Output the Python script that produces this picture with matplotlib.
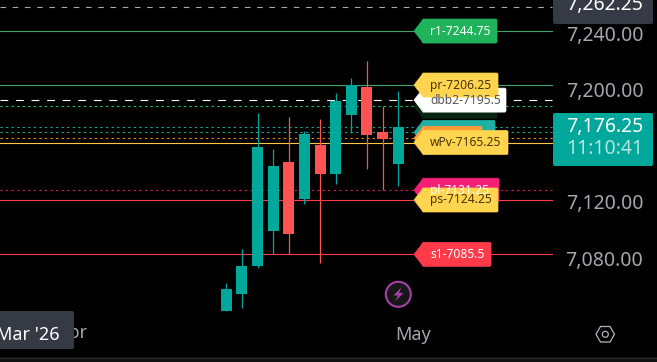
import matplotlib
matplotlib.use("Agg")
import matplotlib.pyplot as plt
from matplotlib.patches import Circle, Polygon, Rectangle, FancyBboxPatch

plt.rcParams['font.family'] = ['Noto Sans', 'DejaVu Sans']

# candles
opens = [7045, 7057.25, 7077.25, 7102, 7151.25, 7125, 7163.5, 7142.75, 7185, 7204.75, 7172.75, 7150]
closes = [7060.75, 7077.25, 7162, 7148.5, 7100, 7171.25, 7142.75, 7194.75, 7206, 7170.5, 7167.75, 7176.25]
highs = [7065, 7089.25, 7186.25, 7160.5, 7183.5, 7173.5, 7182, 7200.5, 7211.25, 7223.5, 7191.25, 7202]
lows = [7045, 7047.25, 7075.75, 7085.5, 7085.75, 7121.5, 7079.25, 7135.5, 7172.25, 7146.25, 7131.5, 7134.25]

# level lines
level_prices = [7262.25, 7244.75, 7206.25, 7195.5, 7191, 7176.25, 7172.5, 7168.25, 7165.25, 7131.25, 7124.25, 7085.5]
level_colors = ['#a9a9b2', '#3fa56b', '#3fa56b', '#ffffff', '#10d060', '#17a89c', '#17a89c', '#f08a24', '#ffc83d', '#d81b60', '#ff3b4a', '#ff3b4a']
level_styles = [(0, (5, 6)), '-', '-', (0, (7, 7)), (0, (2, 3)), (0, (2, 3)), (0, (2, 3)), (0, (2, 3)), '-', (0, (2, 3)), '-', '-']

# tags, back to front
tag_prices = [7244.75, 7191, 7172.5, 7168.25, 7195.5, 7206.25, 7165.25, 7131.25, 7124.25, 7085.5]
tag_texts = ['r1-7244.75', '', '', '', 'dbb2-7195.5', 'pr-7206.25', 'wPv-7165.25', 'pl-7131.25', 'ps-7124.25', 's1-7085.5']
tag_rights = [497, 497, 495, 482, 506, 498, 508, 499, 498, 491]
tag_fills = ['#1fb45c', '#0a2412', '#1fb0a4', '#ff9a36', '#ffffff', '#ffd54f', '#ffd54f', '#f51f78', '#ffd54f', '#ff3b4a']
tag_inks = ['#ffffff', '#ffffff', '#ffffff', '#ffffff', '#555555', '#4a3208', '#4a3208', '#ffffff', '#4a3208', '#ffffff']

y_ticks = [7240, 7200, 7120, 7080]

fig = plt.figure(figsize=(6.57, 3.62), dpi=100, facecolor='black')
ax = fig.add_axes([0, 0, 1, 1], facecolor='black')
ax.set_xlim(-14.47, 27.55)
ax.set_ylim(7008.7, 7266.9)
ax.axis('off')

# pixel overlay for the tags and the widgets
ui = fig.add_axes([0, 0, 1, 1], facecolor='none')
ui.set_xlim(0, 657)
ui.set_ylim(362, 0)
ui.axis('off')


def price_y(price):
    # price to overlay pixel row
    disp = ax.transData.transform((0, price))
    return ui.transData.inverted().transform(disp)[1]


x_end = (552 - 226.3) / 15.636
for p, c, s in zip(level_prices, level_colors, level_styles):
    ax.plot([-14.47, x_end], [p, p], color=c, lw=0.8, ls=s, zorder=1)

for i in range(len(opens)):
    col = '#00a79b' if closes[i] >= opens[i] else '#ff5252'
    ax.plot([i, i], [lows[i], highs[i]], color=col, lw=0.9, zorder=2, solid_capstyle='butt')
    ax.bar(i, abs(closes[i] - opens[i]), bottom=min(opens[i], closes[i]), width=0.7, color=col, zorder=3)

for p, t, r, f, k in zip(tag_prices, tag_texts, tag_rights, tag_fills, tag_inks):
    y = price_y(p)
    ui.add_patch(Polygon([(414, y), (421, y - 9), (423, y - 12), (r - 1, y - 12), (r, y - 11),
                          (r, y + 11), (r - 1, y + 12), (423, y + 12), (421, y + 9)],
                         closed=True, fc=f, ec=f, lw=0.5, joinstyle='round'))
    if t:
        ui.text(430, y, t, color=k, fontsize=8.7, va='center', ha='left')

# price scale
for t in y_ticks:
    ui.text(604.5, price_y(t) - 1.5, f'{t:,.2f}', color='#a4a7ae', fontsize=14, ha='center', va='center')

ui.add_patch(FancyBboxPatch((553, -5), 100, 29, boxstyle='round,pad=0,rounding_size=2', fc='#363a45', ec='none'))
ui.text(604.5, 5, '7,262.25', color='white', fontsize=14, ha='center', va='center')
ui.add_patch(FancyBboxPatch((553, 113), 100, 53, boxstyle='round,pad=0,rounding_size=2', fc='#00a79b', ec='none'))
ui.text(604.5, 127, '7,176.25', color='white', fontsize=14, ha='center', va='center')
ui.text(604.5, 149.5, '11:10:41', color='#b5e4e0', fontsize=14, ha='center', va='center')

# time scale
ui.text(413, 335, 'May', color='#a4a7ae', fontsize=13, ha='center', va='center')
ui.text(72, 333, 'Apr', color='#a4a7ae', fontsize=13, ha='center', va='center')
ui.add_patch(FancyBboxPatch((-5, 311), 79, 38, boxstyle='round,pad=0,rounding_size=2', fc='#363a45', ec='none', zorder=5))
ui.text(28, 335, "Mar '26", color='white', fontsize=13, ha='center', va='center', zorder=6)

# lightning badge
ui.add_patch(Circle((398.3, 294.3), 12.5, fc='#161616', ec='#a63fa6', lw=1.5))
ui.add_patch(Polygon([(401.5, 287), (393.5, 295.5), (398, 295.5), (395, 301.5), (403.5, 293), (399, 293)],
                     closed=True, fc='#a63fa6', ec='none'))

# settings hexagon
ui.add_patch(Polygon([(596, 334.3), (600.5, 326.5), (610, 326.5), (614.5, 334.3), (610, 342), (600.5, 342)],
                     closed=True, fc='none', ec='#b2b5be', lw=0.9))
ui.add_patch(Circle((605.3, 334.3), 3, fc='none', ec='#b2b5be', lw=0.9))

# bottom strip
ui.add_patch(Rectangle((0, 357), 657, 5, fc='#101010', ec='none'))
ui.plot([0, 657], [357.5, 357.5], color='#2a2a2a', lw=0.8)

fig.savefig('out.png', dpi=100, facecolor='black')
